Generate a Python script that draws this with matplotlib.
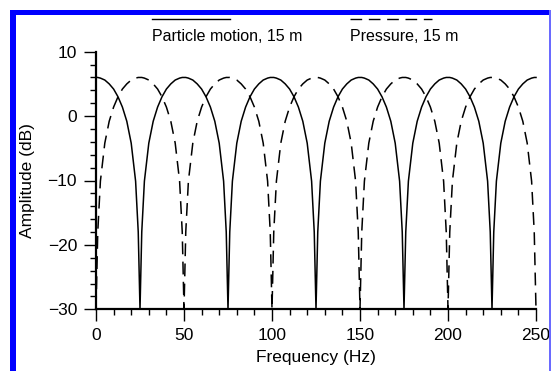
import matplotlib

matplotlib.use("Agg")
import matplotlib.pyplot as plt
import numpy as np
from matplotlib.lines import Line2D
from matplotlib.patches import Rectangle
from matplotlib.ticker import MultipleLocator

plt.rcParams["font.family"] = ["Liberation Sans", "DejaVu Sans"]

# Sample offsets inside one 50 Hz notch period (denser around the notches)
period_offsets_hz = [
    0.0, 0.5, 1.0, 2.5, 5.0, 7.5, 10.0, 12.5, 15.0, 17.5, 20.0, 22.5, 24.0,
    24.5, 25.0, 25.5, 26.0, 27.5, 30.0, 32.5, 35.0, 37.5, 40.0, 42.5, 45.0,
    47.5, 49.0, 49.5,
]
freq_hz = np.concatenate(
    [np.asarray(period_offsets_hz) + 50.0 * k for k in range(5)] + [[250.0]]
)

# Particle-motion ghost response, 15 m receiver depth (dB, floored at -30)
particle_db = [
    6.0, 6.0, 6.0, 5.9, 5.6, 5.0, 4.2, 3.0, 1.4, -0.8, -4.2, -10.1, -18.0,
    -24.0, -30.0, -24.0, -18.0, -10.1, -4.2, -0.8, 1.4, 3.0, 4.2, 5.0, 5.6,
    5.9, 6.0, 6.0,
    6.0, 6.0, 6.0, 5.9, 5.6, 5.0, 4.2, 3.0, 1.4, -0.8, -4.2, -10.1, -18.0,
    -24.0, -30.0, -24.0, -18.0, -10.1, -4.2, -0.8, 1.4, 3.0, 4.2, 5.0, 5.6,
    5.9, 6.0, 6.0,
    6.0, 6.0, 6.0, 5.9, 5.6, 5.0, 4.2, 3.0, 1.4, -0.8, -4.2, -10.1, -18.0,
    -24.0, -30.0, -24.0, -18.0, -10.1, -4.2, -0.8, 1.4, 3.0, 4.2, 5.0, 5.6,
    5.9, 6.0, 6.0,
    6.0, 6.0, 6.0, 5.9, 5.6, 5.0, 4.2, 3.0, 1.4, -0.8, -4.2, -10.1, -18.0,
    -24.0, -30.0, -24.0, -18.0, -10.1, -4.2, -0.8, 1.4, 3.0, 4.2, 5.0, 5.6,
    5.9, 6.0, 6.0,
    6.0, 6.0, 6.0, 5.9, 5.6, 5.0, 4.2, 3.0, 1.4, -0.8, -4.2, -10.1, -18.0,
    -24.0, -30.0, -24.0, -18.0, -10.1, -4.2, -0.8, 1.4, 3.0, 4.2, 5.0, 5.6,
    5.9, 6.0, 6.0,
    6.0,
]

# Pressure ghost response, 15 m receiver depth (dB, floored at -30)
pressure_db = [
    -30.0, -24.0, -18.0, -10.1, -4.2, -0.8, 1.4, 3.0, 4.2, 5.0, 5.6, 5.9,
    6.0, 6.0, 6.0, 6.0, 6.0, 5.9, 5.6, 5.0, 4.2, 3.0, 1.4, -0.8, -4.2, -10.1,
    -18.0, -24.0,
    -30.0, -24.0, -18.0, -10.1, -4.2, -0.8, 1.4, 3.0, 4.2, 5.0, 5.6, 5.9,
    6.0, 6.0, 6.0, 6.0, 6.0, 5.9, 5.6, 5.0, 4.2, 3.0, 1.4, -0.8, -4.2, -10.1,
    -18.0, -24.0,
    -30.0, -24.0, -18.0, -10.1, -4.2, -0.8, 1.4, 3.0, 4.2, 5.0, 5.6, 5.9,
    6.0, 6.0, 6.0, 6.0, 6.0, 5.9, 5.6, 5.0, 4.2, 3.0, 1.4, -0.8, -4.2, -10.1,
    -18.0, -24.0,
    -30.0, -24.0, -18.0, -10.1, -4.2, -0.8, 1.4, 3.0, 4.2, 5.0, 5.6, 5.9,
    6.0, 6.0, 6.0, 6.0, 6.0, 5.9, 5.6, 5.0, 4.2, 3.0, 1.4, -0.8, -4.2, -10.1,
    -18.0, -24.0,
    -30.0, -24.0, -18.0, -10.1, -4.2, -0.8, 1.4, 3.0, 4.2, 5.0, 5.6, 5.9,
    6.0, 6.0, 6.0, 6.0, 6.0, 5.9, 5.6, 5.0, 4.2, 3.0, 1.4, -0.8, -4.2, -10.1,
    -18.0, -24.0,
    -30.0,
]

labels = ["Particle motion, 15 m", "Pressure, 15 m"]
x_ticks = [0, 50, 100, 150, 200, 250]
y_ticks = [-30, -20, -10, 0, 10]

W, H = 552, 371
fig = plt.figure(figsize=(W / 100, H / 100), dpi=100)
ax = fig.add_axes([96 / W, 1 - 309.3 / H, 440 / W, (309.3 - 51.7) / H])

dash = (0, (8.4, 4.8))
ax.plot(freq_hz, particle_db, color="black", lw=1.1, clip_on=False)
ax.plot(freq_hz, pressure_db, color="black", lw=1.1, linestyle=dash,
        clip_on=False)

ax.set_xlim(0, 250)
ax.set_ylim(-30, 10)
ax.set_xticks(x_ticks)
ax.set_yticks(y_ticks)
ax.xaxis.set_minor_locator(MultipleLocator(10))
ax.yaxis.set_minor_locator(MultipleLocator(2))
for side in ("top", "right"):
    ax.spines[side].set_visible(False)
for side in ("left", "bottom"):
    ax.spines[side].set_linewidth(1.6)
ax.tick_params(which="major", direction="out", length=8.6, width=1.0,
               labelsize=12.5, pad=5)
ax.tick_params(which="minor", direction="out", length=4.3, width=1.0)
ax.set_xlabel("Frequency (Hz)", fontsize=12.5, labelpad=5)
ax.set_ylabel("Amplitude (dB)", fontsize=12.5, labelpad=9)

# legend across the top: line sample above each label
legend_items = [(152, 230, "-"), (350, 432, dash)]
for (x0, x1, ls), text in zip(legend_items, labels):
    fig.add_artist(Line2D([x0 / W, x1 / W], [1 - 19 / H, 1 - 19 / H],
                          transform=fig.transFigure, color="black",
                          lw=1.0, linestyle=ls))
    fig.text(x0 / W, 1 - 41 / H, text, fontsize=11.5, ha="left",
             va="baseline")

# blue frame around the panel
fig.add_artist(Rectangle((10 / W, 0), 6 / W, (H - 10) / H,
                         transform=fig.transFigure, color="#0000ff", lw=0))
fig.add_artist(Rectangle((10 / W, 1 - 15 / H), 541 / W, 5 / H,
                         transform=fig.transFigure, color="#0000ff", lw=0))
fig.add_artist(Rectangle((549 / W, 0), 1.5 / W, (H - 10) / H,
                         transform=fig.transFigure, color="#6a6aff", lw=0))

fig.savefig("out.png", dpi=100)
